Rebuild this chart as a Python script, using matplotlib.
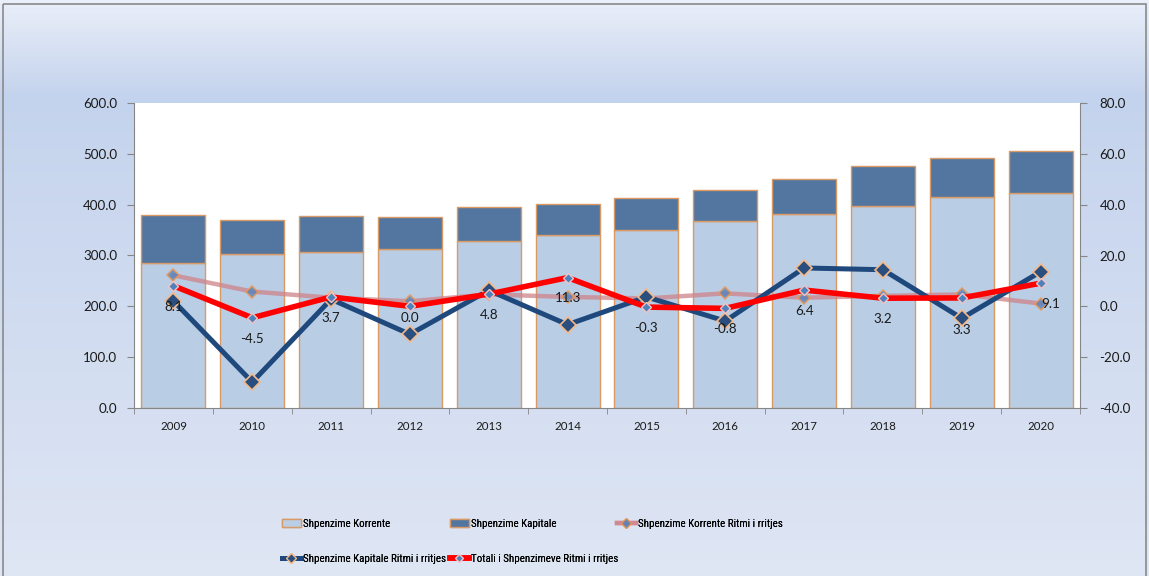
import numpy as np
import matplotlib
matplotlib.use("Agg")
import matplotlib.pyplot as plt
from matplotlib import font_manager as fm
from matplotlib.patches import Patch, Rectangle
from matplotlib.lines import Line2D
from matplotlib.colors import to_rgb


def pick(names):
    for n in names:
        try:
            fm.findfont(fm.FontProperties(family=n), fallback_to_default=False)
            return n
        except Exception:
            pass
    return "DejaVu Sans"


NARROW = pick(["Liberation Sans Narrow", "Roboto Condensed", "Open Sans Condensed", "Lato"])
MAIN = pick(["Lato", "Open Sans", "Liberation Sans"])
plt.rcParams["font.family"] = [MAIN, "DejaVu Sans"]

# ---------------- data ----------------
years = ["2009", "2010", "2011", "2012", "2013", "2014",
         "2015", "2016", "2017", "2018", "2019", "2020"]
korrente = [285, 302, 307, 313, 329, 340, 351, 368, 382, 397, 416, 422]
kapitale = [95, 67, 70, 62, 66, 62, 62, 60, 69, 79, 75, 84]
korrente_growth = [12.2, 5.8, 3.4, 2.0, 4.7, 3.7, 3.1, 5.1, 3.4, 4.1, 4.7, 1.1]
kapitale_growth = [2.1, -29.8, 2.8, -11.0, 6.3, -7.2, 3.7, -5.8, 15.1, 14.4, -4.7, 13.6]
totali_growth = [8.1, -4.5, 3.7, 0.0, 4.8, 11.3, -0.3, -0.8, 6.4, 3.2, 3.3, 9.1]
left_ticks = [0, 100, 200, 300, 400, 500, 600]
right_ticks = [-40, -20, 0, 20, 40, 60, 80]

labels = ["Shpenzime Korrente", "Shpenzime Kapitale",
          "Shpenzime Korrente Ritmi i rritjes",
          "Shpenzime Kapitale Ritmi i rritjes",
          "Totali i Shpenzimeve Ritmi i rritjes"]

# ---------------- figure ----------------
W, H = 1149, 576
fig = plt.figure(figsize=(W / 100, H / 100), dpi=100)

# gradient background
bg = fig.add_axes([0, 0, 1, 1], zorder=-10)
bg.set_axis_off()
stops_y = [0, 95, 576]
stops_c = [to_rgb("#eaeff9"), to_rgb("#c4d3ed"), to_rgb("#dfe6f4")]
yy = np.arange(H)
grad = np.zeros((H, 1, 3))
for ch in range(3):
    grad[:, 0, ch] = np.interp(yy, stops_y, [c[ch] for c in stops_c])
bg.imshow(grad, aspect="auto", extent=[0, W, H, 0])
bg.set_xlim(0, W)
bg.set_ylim(H, 0)
bg.add_patch(Rectangle((3, 4), W - 6, H + 10, fill=False, edgecolor="#8a8a8a", lw=1.2))

ax_l, ax_r, ax_t, ax_b = 134, 1080, 103, 408
ax = fig.add_axes([ax_l / W, 1 - ax_b / H, (ax_r - ax_l) / W, (ax_b - ax_t) / H])
ax.set_facecolor("white")

x = np.arange(len(years))
bw = 0.81
edge = "#d99a66"
ax.bar(x, korrente, bw, color="#b9cde5", edgecolor=edge, linewidth=1.0, zorder=2)
ax.bar(x, kapitale, bw, bottom=korrente, color="#52769f", edgecolor=edge, linewidth=1.0, zorder=2)

ax.set_xlim(-0.5, len(years) - 0.5)
ax.set_ylim(0, 600)
ax.set_yticks(left_ticks)
ax.set_yticklabels([f"{v:.1f}" for v in left_ticks])
ax.set_xticks(x)
ax.set_xticklabels(years)
ax.set_xticks(np.arange(-0.5, len(years)), minor=True)
ax.tick_params(axis="x", which="major", length=0, pad=9, labelsize=8.3, colors="#1a1a1a")
ax.tick_params(axis="x", which="minor", length=4, color="#868686")
ax.tick_params(axis="y", length=5, color="#868686", pad=7, labelsize=9.6, colors="#1a1a1a")
for s in ["top", "right"]:
    ax.spines[s].set_visible(False)
for s in ["left", "bottom"]:
    ax.spines[s].set_color("#868686")

ax2 = ax.twinx()
ax2.set_ylim(-40, 80)
ax2.set_yticks(right_ticks)
ax2.set_yticklabels([f"{v:.1f}" for v in right_ticks])
ax2.tick_params(axis="y", length=5, color="#868686", pad=9, labelsize=9.6, colors="#1a1a1a")
for s in ["top", "left", "bottom"]:
    ax2.spines[s].set_visible(False)
ax2.spines["right"].set_color("#868686")

ax2.plot(x, korrente_growth, color="#cf8389", alpha=0.75, lw=3.2,
         marker="D", ms=6, mfc="#4f81bd", mec="#f79646", mew=1.2, zorder=3)
ax2.plot(x, kapitale_growth, color="#1f497d", lw=3.6,
         marker="D", ms=8, mfc="#2a4f7e", mec="#f5b98a", mew=1.2, zorder=4)
ax2.plot(x, totali_growth, color="#ff0000", lw=4.0,
         marker="D", ms=5.5, mfc="#4f81bd", mec="#f2c4c4", mew=1.0, zorder=5)

# data labels (offsets in points below the point; a few nudged as in the original)
label_dy = {3: -8.5, 10: -23}
label_dx = {11: 7}
for i, v in enumerate(totali_growth):
    ax2.annotate(f"{v:.1f}", (x[i], v), xytext=(label_dx.get(i, 0), label_dy.get(i, -15)),
                 textcoords="offset points", ha="center", va="center",
                 fontsize=9.6, color="#1a1a1a", zorder=6)

# legend: one entry per slot, placed like the original
h_k = Patch(facecolor="#b9cde5", edgecolor=edge, linewidth=1.0)
h_c = Patch(facecolor="#52769f", edgecolor=edge, linewidth=1.0)
h1 = Line2D([], [], color="#cf8389", alpha=0.75, lw=3.2, marker="D", ms=5, mfc="#4f81bd", mec="#f79646")
h2 = Line2D([], [], color="#1f497d", lw=3.6, marker="D", ms=5, mfc="#2a4f7e", mec="#f5b98a")
h3 = Line2D([], [], color="#ff0000", lw=4.0, marker="D", ms=4.5, mfc="#4f81bd", mec="#f2c4c4")
entries = [(h_k, labels[0], 282, 524), (h_c, labels[1], 450, 524), (h1, labels[2], 617, 524),
           (h2, labels[3], 282, 559), (h3, labels[4], 450, 559)]
lprop = fm.FontProperties(family=[NARROW, "DejaVu Sans"], size=7.9)
for h, lab, px, py in entries:
    lg = fig.legend([h], [lab], loc="center left", bbox_to_anchor=(px / W, 1 - py / H),
                    frameon=False, prop=lprop, handlelength=1.7, handletextpad=0.25,
                    borderpad=0, borderaxespad=0)
    fig.add_artist(lg)

fig.savefig("out.png", dpi=100)
